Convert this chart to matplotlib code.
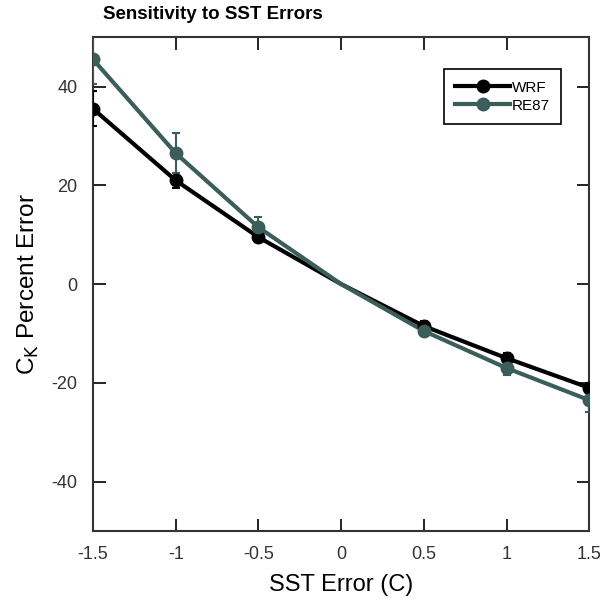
import numpy as np
import matplotlib
matplotlib.use("Agg")
import matplotlib.pyplot as plt

plt.rcParams['font.family'] = ['Liberation Sans', 'DejaVu Sans']
plt.rcParams['axes.unicode_minus'] = False

sst_err = [-1.5, -1.0, -0.5, 0.0, 0.5, 1.0, 1.5]
wrf = [35.5, 21.0, 9.5, 0.0, -8.5, -15.0, -21.0]
wrf_err = [3.5, 1.5, 1.0, 0.0, 1.0, 1.0, 1.0]
re87 = [45.5, 26.5, 11.5, 0.0, -9.5, -17.0, -23.5]
re87_err = [5.0, 4.0, 2.0, 0.0, 1.0, 1.5, 2.5]

wrf_color = 'black'
re87_color = '#3b5e5a'

fig = plt.figure(figsize=(6, 5.99), dpi=100)
ax = fig.add_axes([0.155, 0.1135, 0.827, 0.8245])

x = np.array(sst_err)
mask = x != 0

for y, e, c, name in [(wrf, wrf_err, wrf_color, 'WRF'), (re87, re87_err, re87_color, 'RE87')]:
    y = np.array(y)
    e = np.array(e)
    ax.plot(x, y, color=c, lw=3, zorder=3)
    ax.errorbar(x[mask], y[mask], yerr=e[mask], fmt='none', ecolor=c, elinewidth=1.5,
                capsize=3, capthick=1.5, zorder=3)
    ax.plot(x[mask], y[mask], 'o', color=c, ms=9, zorder=4)
    ax.plot([], [], '-o', color=c, lw=3, ms=9, label=name)

ax.set_xlim(-1.5, 1.5)
ax.set_ylim(-50, 50)
ax.set_xticks([-1.5, -1, -0.5, 0, 0.5, 1, 1.5])
ax.set_xticklabels(['-1.5', '-1', '-0.5', '0', '0.5', '1', '1.5'])
ax.set_yticks([-40, -20, 0, 20, 40])
ax.tick_params(direction='in', top=True, right=True, length=9, width=1.2,
               labelsize=13, labelcolor='#333333')
ax.tick_params(axis='x', pad=11)
ax.tick_params(axis='y', pad=11)
for s in ax.spines.values():
    s.set_linewidth(1.5)
    s.set_color('#333333')

ax.set_xlabel('SST Error (C)', fontsize=17, labelpad=8)
ax.set_ylabel(r'C$_{\mathrm{K}}$ Percent Error', fontsize=17.5, labelpad=8)
fig.text(0.172, 0.975, 'Sensitivity to SST Errors', fontsize=13.5, fontweight='bold',
         va='center')

leg = ax.legend(loc='upper right', bbox_to_anchor=(0.9435, 0.935), borderaxespad=0,
                fontsize=11, handlelength=3.6, handletextpad=0.1, borderpad=0.75,
                labelspacing=0.25, fancybox=False, framealpha=1, edgecolor='black')
leg.get_frame().set_linewidth(1.2)

plt.savefig('out.png', dpi=100)
plt.close()
